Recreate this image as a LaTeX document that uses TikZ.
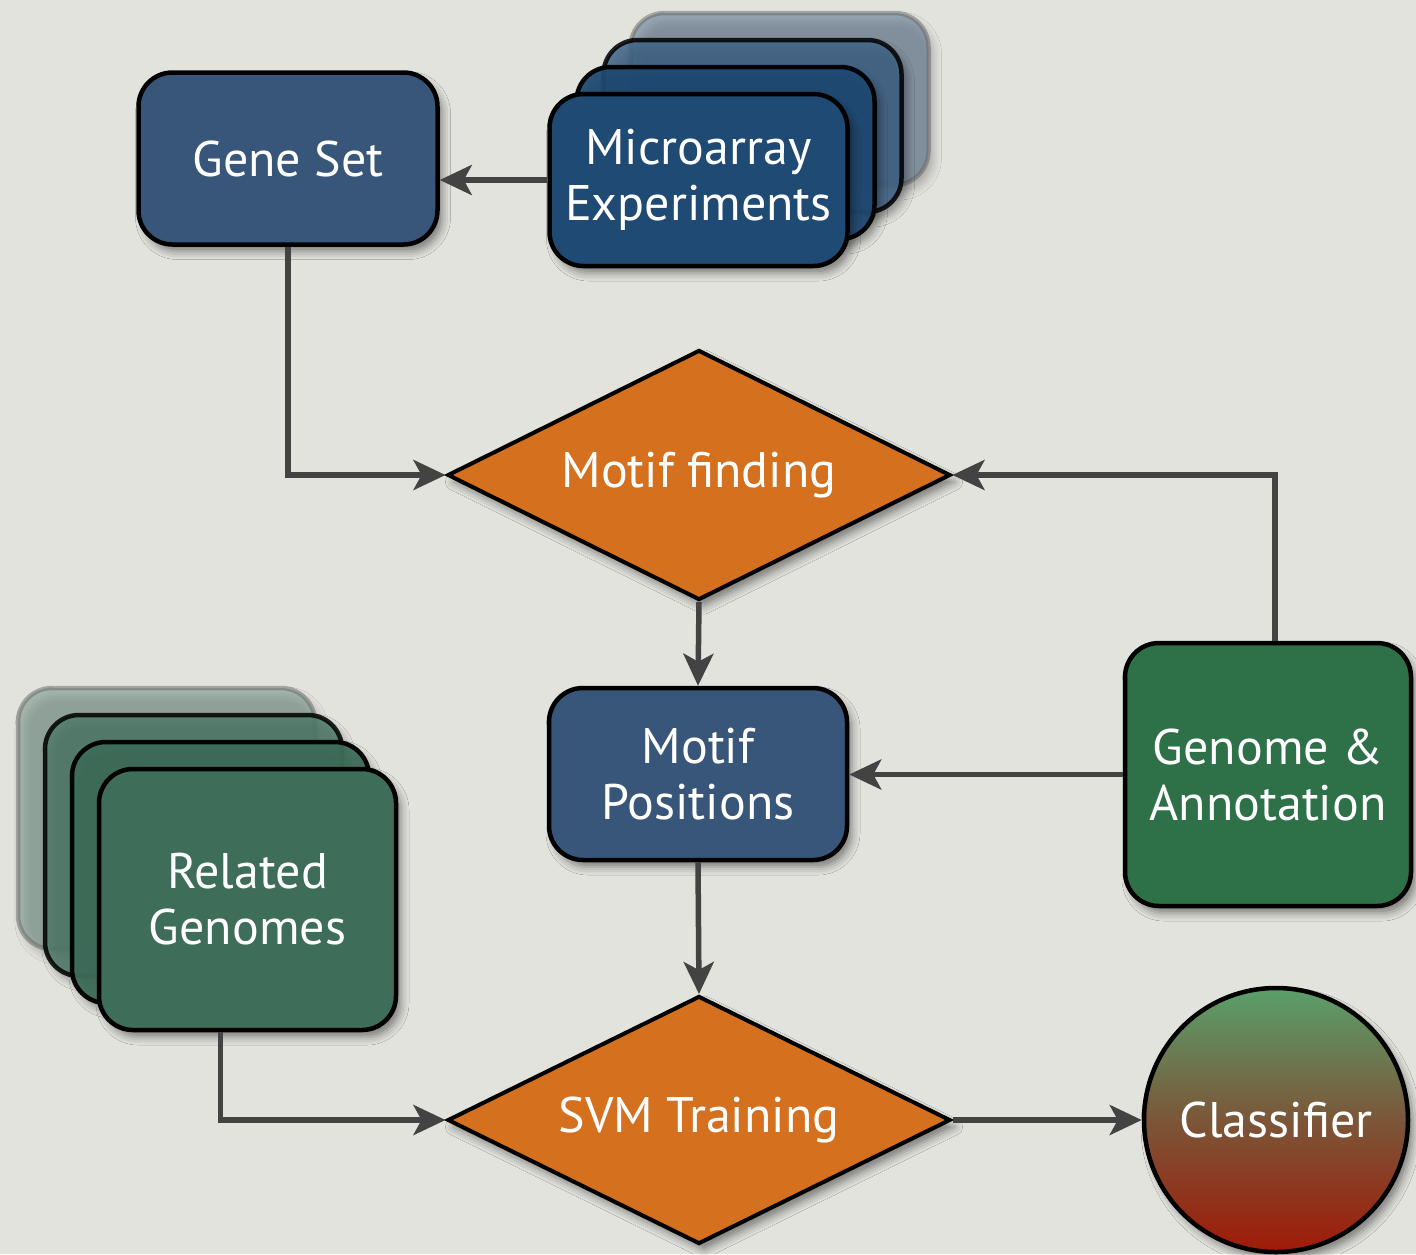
\documentclass[tikz,border=0pt]{standalone}
\usepackage{fontspec}
\setmainfont{PT Sans}
\usetikzlibrary{shapes.geometric,shadows.blur,arrows.meta,calc}

\definecolor{paper}{HTML}{E3E3DE}
\definecolor{slateblue}{HTML}{385679}
\definecolor{deepblue}{HTML}{1F4A73}
\definecolor{tealgreen}{HTML}{3E6D5A}
\definecolor{leafgreen}{HTML}{2E7047}
\definecolor{pumpkin}{HTML}{D5701F}
\definecolor{wire}{HTML}{434343}
\definecolor{clstop}{HTML}{5A9F6B}
\definecolor{clsmid}{HTML}{7B5638}
\definecolor{clsbot}{HTML}{A01A08}

\begin{document}
\begin{tikzpicture}[x=1pt,y=-1pt,
  shade/.style={blur shadow={shadow xshift=5pt,shadow yshift=-7pt,
      shadow blur radius=8pt,shadow opacity=45}},
  box/.style={rectangle,rounded corners=34pt,draw=black,line width=4.5pt,
      inner sep=0pt,shade,text=white,font=\fontsize{50}{56}\selectfont,align=center},
  rhomb/.style={diamond,aspect=2,draw=black,line width=4pt,fill=pumpkin,inner sep=0pt,
      minimum width=503pt,minimum height=250pt,shade,
      text=white,font=\fontsize{50}{56}\selectfont},
  conn/.style={draw=wire,line width=5.5pt,
      -{Stealth[length=32pt,width=30pt,inset=8pt]}},
]
\useasboundingbox (0,0) rectangle (1416,1254);
\fill[paper] (0,0) rectangle (1416,1254);

% ---- microarray stack (back to front) ----
\node[box,minimum width=298pt,minimum height=172pt,fill=slateblue!80!white,
  fill opacity=0.55,draw=black!60,draw opacity=0.5] (mic3) at (779.5,99) {};
\node[box,minimum width=298pt,minimum height=172pt,fill=deepblue!85!white,
  fill opacity=0.85,draw opacity=0.85] (mic2) at (752.5,126) {};
\node[box,minimum width=298pt,minimum height=172pt,fill=deepblue,
  fill opacity=0.93,draw opacity=0.95] (mic1) at (725.5,153) {};
\node[box,minimum width=298pt,minimum height=172pt,fill=deepblue] (mic) at (698.5,180)
  {Microarray\\Experiments};

% ---- gene set ----
\node[box,minimum width=299pt,minimum height=172pt,fill=slateblue] (gs) at (288,158.5) {Gene Set};

% ---- motif finding ----
\node[rhomb] (mf) at (699,475) {Motif finding};

% ---- motif positions ----
\node[box,minimum width=298pt,minimum height=172pt,fill=slateblue] (mp) at (698,774)
  {Motif\\Positions};

% ---- genome & annotation ----
\node[box,minimum width=286pt,minimum height=263pt,fill=leafgreen] (ga) at (1268,774.5)
  {Genome \&\\Annotation};

% ---- related genomes stack (back to front) ----
\node[box,minimum width=297pt,minimum height=261pt,fill=tealgreen!70!white,
  fill opacity=0.55,draw=black!60,draw opacity=0.5] (rg3) at (166.5,818.5) {};
\node[box,minimum width=297pt,minimum height=261pt,fill=tealgreen!90!white,
  fill opacity=0.85,draw opacity=0.85] (rg2) at (193.5,845.5) {};
\node[box,minimum width=297pt,minimum height=261pt,fill=tealgreen,
  fill opacity=0.93,draw opacity=0.95] (rg1) at (220.5,872.5) {};
\node[box,minimum width=297pt,minimum height=261pt,fill=tealgreen] (rg) at (247.5,899.5)
  {Related\\Genomes};

% ---- svm training ----
\node[rhomb,minimum height=248pt] (svm) at (699,1120) {SVM Training};

% ---- classifier ----
\node[circle,draw=black,line width=4.5pt,minimum size=264pt,inner sep=0pt,shade,
  top color=clstop,bottom color=clsbot,middle color=clsmid,
  text=white,font=\fontsize{50}{56}\selectfont] (cl) at (1276,1120) {Classifier};

% ---- connectors ----
\draw[conn] (mic.west) -- (mic.west -| gs.east);
\draw[conn] (gs.south) |- (mf.west);
\draw[conn] ($(ga.north)+(7,0)$) |- (mf.east);
\draw[conn] (ga.west) -- (ga.west -| mp.east);
\draw[conn] (mf.south) -- (mp.north);
\draw[conn] (mp.south) -- (svm.north);
\draw[conn] ($(rg.south)+(-27,0)$) |- (svm.west);
\draw[conn] (svm.east) -- (cl.west);
\end{tikzpicture}
\end{document}
